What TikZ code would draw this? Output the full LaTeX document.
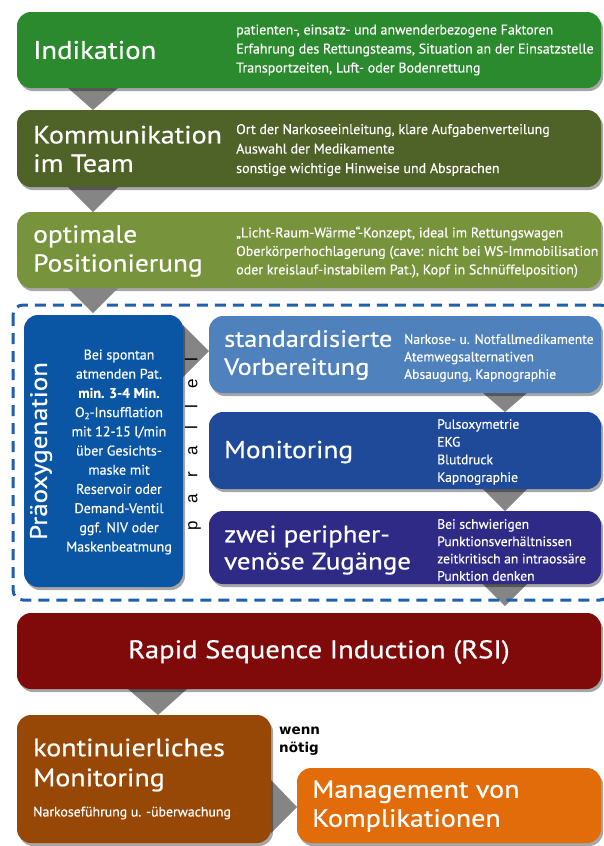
\documentclass[tikz,border=0pt]{standalone}
\usepackage{fontspec}
\setmainfont{PT Sans}
\newfontfamily\ttlfont[FakeStretch=1.12,FakeBold=0.6]{PT Sans}
\newfontfamily\detfont[FakeStretch=1.0,FakeBold=0.4]{PT Sans}
\newfontfamily\parfont{Liberation Sans}
\newfontfamily\wennfont{DejaVu Sans}
\usetikzlibrary{shadows,calc}
\pgfdeclarelayer{bg}
\pgfsetlayers{bg,main}
\definecolor{cInd}{HTML}{2C8A2E}
\definecolor{cKom}{HTML}{4F6228}
\definecolor{cPos}{HTML}{77933C}
\definecolor{cPra}{HTML}{0B56A4}
\definecolor{cStd}{HTML}{4F81BD}
\definecolor{cMon}{HTML}{1F4A9A}
\definecolor{cZwe}{HTML}{2E2A86}
\definecolor{cRsi}{HTML}{800A0A}
\definecolor{cKon}{HTML}{974806}
\definecolor{cMgm}{HTML}{E36C0A}
\definecolor{cDash}{HTML}{1F5FAD}
\definecolor{cTri}{HTML}{858585}
\tikzset{
  box/.style={rounded corners=14pt, draw=none, anchor=north west, inner sep=0pt, outer sep=0pt,
    drop shadow={shadow xshift=2pt, shadow yshift=-3pt, fill=black, opacity=0.35}},
  ttl/.style={text=white, font=\ttlfont\fontsize{24}{28.5}\selectfont, align=left, anchor=west, inner sep=0pt},
  det/.style={text=white, font=\detfont\fontsize{14}{19}\selectfont, align=left, anchor=west, inner sep=0pt},
  tri/.style={fill=cTri},
}
\begin{document}
\begin{tikzpicture}[x=1pt,y=-1pt]
\useasboundingbox (0,0) rectangle (603,846);
% boxes
\node[box, fill=cInd, minimum width=584pt, minimum height=76pt] (ind) at (17,12) {};
\node[box, fill=cKom, minimum width=584pt, minimum height=77pt] (kom) at (17,110) {};
\node[box, fill=cPos, minimum width=584pt, minimum height=76pt] (pos) at (17,212) {};
\node[box, fill=cPra, minimum width=159pt, minimum height=272pt] (pra) at (24,315) {};
\node[box, fill=cStd, minimum width=392pt, minimum height=77pt] (std) at (209,316) {};
\node[box, fill=cMon, minimum width=392pt, minimum height=77pt] (mon) at (209,412) {};
\node[box, fill=cZwe, minimum width=392pt, minimum height=73pt] (zwe) at (209,511) {};
\node[box, fill=cRsi, minimum width=584pt, minimum height=76pt] (rsi) at (17,613) {};
\node[box, fill=cKon, minimum width=254pt, minimum height=128pt] (kon) at (17,715) {};
\node[box, fill=cMgm, minimum width=304pt, minimum height=75pt] (mgm) at (297,768) {};
% triangles
\begin{pgfonlayer}{bg}
\fill[tri] ($(ind.south west)+(51,0)$) -- ($(ind.south west)+(101,0)$) -- ($(kom.north west)+(76,0)$) -- cycle;
\fill[tri] ($(kom.south west)+(51,0)$) -- ($(kom.south west)+(101,0)$) -- ($(pos.north west)+(76,0)$) -- cycle;
\fill[tri] ($(pra.north east)+(0,10)$) -- ($(pra.north east)+(0,62)$) -- ($(std.north west)+(0,35)$) -- cycle;
\fill[tri] ($(std.south west)+(274,0)$) -- ($(std.south west)+(318,0)$) -- ($(mon.north west)+(296,0)$) -- cycle;
\fill[tri] ($(mon.south west)+(274,0)$) -- ($(mon.south west)+(318,0)$) -- ($(zwe.north west)+(296,0)$) -- cycle;
\coordinate (t7) at ($(rsi.north west)+(488,-7)$);
\fill[tri] ($(zwe.south west)+(274,0)$) -- ($(zwe.south west)+(318,0)$) -- (t7) -- cycle;
\fill[tri] ($(rsi.south west)+(111,0)$) -- ($(rsi.south west)+(170,0)$) -- ($(kon.north west)+(141,0)$) -- cycle;
\fill[tri] ($(kon.north east)+(0,65)$) -- ($(kon.north east)+(0,118)$) -- ($(mgm.north west)+(0,39)$) -- cycle;
\end{pgfonlayer}
% dashed frame
\draw[cDash, line width=3pt, dash pattern=on 11pt off 7pt, rounded corners=10pt] (13,305) rectangle (610,600);
% triangle over the frame top
\fill[tri] ($(pos.south west)+(51,0)$) -- ($(pos.south west)+(101,0)$) -- ($(pra.north west)+(69,-2)$) -- cycle;
% texts
\node[ttl, font=\ttlfont\fontsize{25.5}{29}\selectfont] (indT) at (33,50) {Indikation};
\node[det] (indD) at (236,50) {patienten-, einsatz- und anwenderbezogene Faktoren\\Erfahrung des Rettungsteams, Situation an der Einsatzstelle\\Transportzeiten, Luft- oder Bodenrettung};
\node[ttl, font=\ttlfont\fontsize{25}{28.5}\selectfont] (komT) at (33,149) {Kommunikation\\im Team};
\node[det, font=\detfont\fontsize{14}{19.5}\selectfont] (komD) at (236,150) {Ort der Narkoseeinleitung, klare Aufgabenverteilung\\Auswahl der Medikamente\\sonstige wichtige Hinweise und Absprachen};
\node[ttl, font=\ttlfont\fontsize{24.5}{29}\selectfont] (posT) at (33,251) {optimale\\Positionierung};
\node[det, font=\detfont\fontsize{14}{18.5}\selectfont] (posD) at (236,252) {„Licht-Raum-Wärme“-Konzept, ideal im Rettungswagen\\Oberkörperhochlagerung (cave: nicht bei WS-Immobilisation\\oder kreislauf-instabilem Pat.), Kopf in Schnüffelposition)};
\node[ttl, anchor=center, rotate=90] (praT) at (41,451) {Präoxygenation};
\node[det, anchor=center, align=center, font=\detfont\fontsize{14}{19.2}\selectfont] (praD) at (119,452) {Bei spontan\\atmenden Pat.\\\textbf{min. 3-4 Min.}\\O\raisebox{-0.15em}{\fontsize{9}{9}\selectfont 2}-Insufflation\\mit 12-15 l/min\\über Gesichts-\\maske mit\\Reservoir oder\\Demand-Ventil\\ggf. NIV oder\\Maskenbeatmung};
\node[anchor=center, rotate=90, inner sep=0pt, font=\parfont\fontsize{17}{17}\selectfont] (par) at (193,444) {\hbox to 172pt{p\hfil a\hfil r\hfil a\hfil l\hfil l\hfil e\hfil l}};
\node[ttl, font=\ttlfont\fontsize{23.5}{28}\selectfont] (stdT) at (224,355) {standardisierte\\Vorbereitung};
\node[det, font=\detfont\fontsize{13.6}{17.5}\selectfont] (stdD) at (404,358) {Narkose- u. Notfallmedikamente\\Atemwegsalternativen\\Absaugung, Kapnographie};
\node[ttl, font=\ttlfont\fontsize{24.5}{28}\selectfont] (monT) at (224,452) {Monitoring};
\node[det, font=\detfont\fontsize{13.6}{17.7}\selectfont] (monD) at (437,452) {Pulsoxymetrie\\EKG\\Blutdruck\\Kapnographie};
\node[ttl, font=\ttlfont\fontsize{24}{27}\selectfont] (zweT) at (224,550) {zwei peripher-\\venöse Zugänge};
\node[det, font=\detfont\fontsize{13.6}{17.3}\selectfont] (zweD) at (437,550) {Bei schwierigen\\Punktionsverhältnissen\\zeitkritisch an intraossäre\\Punktion denken};
\node[ttl, anchor=center, font=\ttlfont\fontsize{25.5}{29}\selectfont] (rsiT) at (319,652) {Rapid Sequence Induction (RSI)};
\node[ttl, font=\ttlfont\fontsize{25}{30}\selectfont] (konT) at (33,765) {kontinuierliches\\Monitoring};
\node[det, font=\detfont\fontsize{13.8}{15}\selectfont] (konD) at (33,813) {Narkoseführung u. -überwachung};
\node[ttl, font=\ttlfont\fontsize{25}{29}\selectfont] (mgmT) at (312,806) {Management von\\Komplikationen};
\node[anchor=west, inner sep=0pt, align=left, font=\wennfont\bfseries\fontsize{13.5}{18}\selectfont] (wenn) at (279,741) {wenn\\nötig};
\end{tikzpicture}
\end{document}
